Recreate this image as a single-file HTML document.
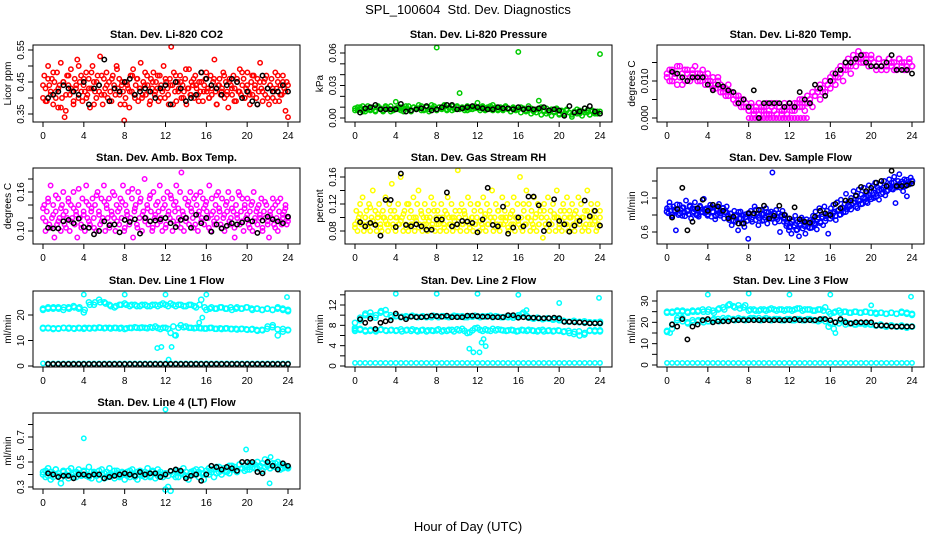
<!DOCTYPE html>
<html><head><meta charset="utf-8"><title>SPL_100604 Std. Dev. Diagnostics</title>
<style>
html,body{margin:0;padding:0;background:#fff;}
svg{display:block;font-family:"Liberation Sans",Arial,sans-serif;}
</style></head>
<body>
<svg id="chart" width="936" height="540" viewBox="0 0 936 540" xmlns="http://www.w3.org/2000/svg">
<rect width="936" height="540" fill="#fff"/>
<text x="468" y="14" text-anchor="middle" font-size="13">SPL_100604&#160; Std. Dev. Diagnostics</text>
<text x="468" y="531" text-anchor="middle" font-size="13">Hour of Day (UTC)</text>
</svg>
<script>
// ---------- shared categories ----------
const xTicks = [0,4,8,12,16,20,24];
const blackHours = [0.5,1,1.5,2,2.5,3,3.5,4,4.5,5,5.5,6,6.5,7,7.5,8,8.5,9,9.5,10,10.5,11,11.5,12,12.5,13,13.5,14,14.5,15,15.5,16,16.5,17,17.5,18,18.5,19,19.5,20,20.5,21,21.5,22,22.5,23,23.5,24];

// ---------- CO2 ----------
const co2Color = [.40,.47,.43,.39,.50,.44,.41,.46,.38,.45,.42,.48,.37,.44,.51,.40,.45,.34,.36,.47,.44,.41,.49,.42,.38,.46,.43,.52,.40,.45,.47,.39,.44,.42,.48,.41,.46,.37,.43,.50,.45,.42,.40,.47,.44,.53,.41,.38,.46,.43,.48,.40,.45,.42,.39,.47,.44,.41,.50,.43,.46,.38,.44,.42,.33,.40,.45,.43,.37,.47,.42,.49,.41,.44,.46,.39,.43,.51,.40,.45,.44,.41,.47,.42,.38,.46,.43,.48,.41,.45,.43,.39,.47,.44,.42,.50,.40,.45,.43,.38,.46,.56,.44,.48,.42,.39,.45,.43,.47,.40,.44,.42,.46,.38,.43,.49,.41,.45,.44,.40,.47,.43,.41,.45,.42,.48,.39,.44,.46,.42,.43,.40,.47,.41,.45,.52,.42,.38,.44,.46,.41,.43,.48,.40,.45,.42,.37,.46,.44,.41,.47,.43,.39,.45,.42,.49,.41,.44,.46,.40,.43,.48,.42,.38,.45,.41,.47,.44,.40,.46,.42,.51,.43,.39,.45,.41,.47,.43,.38,.44,.46,.40,.42,.48,.43,.45,.39,.44,.41,.47,.43,.36,.45,.34];
const co2ColorB = [.44,.39,.46,.42,.48,.40,.43,.37,.45,.41,.47,.43,.39,.44,.50,.42,.46,.40,.43,.48,.38,.45,.42,.47,.41,.44,.39,.46,.43,.49,.41,.45,.38,.44,.42,.47,.40,.46,.43,.41,.48,.44,.39,.45,.42,.47,.40,.43,.46,.41,.44,.38,.47,.42,.45,.40,.49,.43,.41,.46,.44,.39,.45,.42,.48,.40,.43,.46,.38,.44,.42,.47,.41,.45,.43,.39,.46,.42,.48,.40,.44,.41,.47,.43,.38,.45,.42,.46,.40,.44,.43,.39,.47,.41,.45,.42,.44];
const co2Black = [.40,.41,.42,.44,.43,.42,.41,.45,.38,.43,.44,.52,.39,.43,.42,.45,.46,.41,.42,.43,.42,.40,.43,.44,.38,.45,.43,.39,.40,.41,.48,.46,.44,.43,.41,.44,.46,.45,.40,.42,.39,.38,.47,.43,.42,.42,.44,.42];
const co2Ticks = [.35,.40,.45,.50,.55];
const co2Labels = ["0.35","","0.45","","0.55"];

// ---------- Pressure ----------
const presColor = [.009,.007,.010,.006,.008,.011,.007,.009,.006,.010,.008,.007,.011,.009,.006,.008,.015,.010,.007,.009,.011,.008,.006,.010,.009,.012,.007,.008,.010,.006,.009,.011,.065,.010,.008,.012,.007,.009,.011,.008,.010,.023,.009,.007,.011,.008,.010,.009,.014,.009,.011,.007,.010,.008,.012,.009,.007,.010,.008,.011,.009,.006,.010,.008,.061,.010,.008,.007,.011,.009,.006,.008,.016,.010,.007,.009,.005,.008,.006,.009,.004,.007,.003,.008,.005,.001,.006,.004,.007,.002,.009,.005,.003,.007,.004,.006,.059];
const presColorB = [.007,.010,.008,.011,.006,.009,.008,.010,.007,.011,.009,.006,.010,.008,.011,.007,.009,.008,.010,.006,.009,.011,.007,.010,.008,.009,.011,.007,.010,.008,.012,.009,.007,.010,.009,.011,.008,.010,.007,.009,.011,.008,.010,.009,.007,.010,.008,.011,.009,.007,.010,.008,.009,.011,.007,.010,.008,.009,.007,.010,.008,.006,.009,.007,.008,.005,.009,.006,.008,.004,.007,.005,.008,.003,.006,.004,.007,.002,.005,.008,.003,.006,.004,.007,.005,.003,.006,.008,.004,.006,.005,.007,.003,.006,.005,.004,.006];
const presBlack = [.005,.009,.010,.012,.008,.008,.008,.008,.013,.006,.007,.008,.009,.011,.007,.008,.010,.012,.012,.008,.009,.010,.011,.010,.009,.008,.008,.010,.009,.009,.008,.010,.008,.009,.008,.009,.010,.007,.008,.007,.002,.011,.005,.006,.009,.011,.006,.004];
const presTicks = [0,.01,.02,.03,.04,.05,.06];
const presLabels = ["0.00","","","0.03","","","0.06"];

// ---------- Li-820 Temp ----------
const tempColor = [.012,.010,.013,.011,.009,.014,.012,.010,.013,.011,.012,.014,.010,.012,.011,.009,.012,.010,.008,.009,.011,.007,.008,.006,.009,.007,.005,.006,.004,.005,.003,.004,.002,.003,.001,.002,.004,.002,.003,.001,.002,.004,.002,.001,.003,.002,.004,.001,.003,.002,.004,.003,.005,.003,.002,.004,.005,.003,.006,.007,.005,.008,.007,.009,.008,.010,.009,.011,.012,.010,.013,.014,.012,.015,.014,.016,.015,.017,.016,.015,.017,.015,.014,.016,.013,.015,.014,.016,.015,.013,.014,.016,.015,.013,.014,.016,.014];
const tempColorB = [.011,.013,.010,.012,.014,.011,.009,.013,.012,.010,.013,.011,.012,.010,.013,.011,.010,.009,.011,.008,.010,.009,.007,.008,.006,.007,.005,.004,.006,.003,.005,.003,.002,.004,.002,.003,.001,.003,.002,.004,.001,.003,.002,.004,.003,.001,.002,.003,.004,.003,.002,.004,.003,.005,.004,.006,.004,.007,.006,.008,.009,.007,.010,.009,.011,.012,.011,.013,.014,.013,.015,.016,.014,.017,.016,.018,.016,.015,.017,.014,.016,.015,.013,.016,.014,.015,.013,.016,.014,.015,.013,.016,.014,.015,.013,.015,.014];
const tempZeroHours = [8,8.3,8.6,8.9,9.2,9.5,9.8,10.1,10.4,10.7,11,11.3,11.6,11.9,12.2,12.5,12.8,13.1,13.4,13.7];
const tempZeroValues = [0,0,0,0,0,0,0,0,0,0,0,0,0,0,0,0,0,0,0,0];
const tempBlack = [.0125,.012,.011,.010,.011,.011,.011,.009,.0075,.009,.0085,.0075,.007,.004,.005,.003,.0075,0,.004,.004,.004,.004,.003,.004,.003,.007,.005,.004,.009,.008,.006,.010,.012,.013,.015,.015,.016,.017,.015,.014,.014,.014,.015,.017,.013,.013,.013,.012];
const tempTicks = [0,.005,.010,.015];
const tempLabels = ["0.000","","0.010",""];

// ---------- Amb Box Temp ----------
const ambColor = [.12,.14,.10,.13,.15,.11,.17,.12,.14,.09,.13,.11,.15,.12,.10,.14,.16,.11,.13,.12,.15,.10,.14,.12,.16,.11,.13,.09,.14,.12,.11,.15,.13,.10,.17,.12,.14,.11,.13,.15,.12,.14,.10,.16,.13,.11,.15,.12,.17,.10,.14,.12,.15,.11,.13,.16,.12,.10,.14,.13,.11,.15,.12,.17,.10,.14,.13,.16,.11,.12,.15,.09,.13,.14,.11,.16,.12,.15,.10,.13,.18,.12,.14,.11,.15,.13,.10,.16,.12,.14,.11,.13,.17,.12,.10,.15,.14,.11,.16,.13,.12,.15,.10,.14,.13,.17,.11,.12,.16,.19,.13,.10,.15,.12,.14,.11,.16,.13,.12,.15,.11,.14,.10,.13,.16,.12,.15,.11,.14,.13,.12,.17,.10,.15,.13,.11,.14,.12,.16,.13,.11,.15,.12,.10,.14,.13,.16,.11,.12,.15,.13,.09,.14,.12,.16,.11,.13,.15,.10,.14,.12,.15,.11,.13,.14,.10,.16,.12,.13,.11,.14,.12,.15,.10,.13,.12,.14,.11,.09,.13,.12,.15,.11,.14,.12,.10,.13,.15,.11,.12,.13,.14,.11,.12];
const ambColorB = [.135,.115,.145,.105,.125,.155,.115,.135,.125,.105,.145,.115,.135,.125,.165,.105,.125,.145,.115,.135,.105,.155,.125,.115,.145,.135,.105,.125,.155,.115,.135,.145,.105,.125,.115,.165,.135,.105,.145,.125,.115,.135,.155,.105,.125,.145,.115,.135,.105,.125,.155,.115,.145,.135,.105,.125,.115,.145,.135,.105,.155,.125,.115,.135,.145,.105,.125,.115,.155,.135,.105,.125,.145,.115,.135,.105,.125,.155,.115,.135,.125,.105,.145,.115,.135,.125,.105,.145,.115,.125,.135,.105,.145,.115,.125,.135,.115];
const ambBlack = [.105,.104,.104,.115,.117,.112,.119,.106,.105,.095,.100,.115,.109,.110,.098,.117,.114,.118,.096,.120,.115,.116,.118,.120,.112,.106,.117,.120,.105,.125,.112,.120,.099,.110,.104,.108,.112,.110,.113,.118,.115,.097,.116,.122,.118,.115,.112,.122];
const ambTicks = [.10,.12,.14,.16,.18];
const ambLabels = ["0.10","","","0.16",""];

// ---------- Gas Stream RH ----------
const rhColor = [.09,.11,.08,.10,.12,.09,.13,.08,.10,.11,.09,.12,.08,.10,.14,.09,.11,.08,.10,.12,.09,.08,.11,.10,.13,.09,.08,.12,.10,.15,.09,.11,.08,.10,.12,.09,.16,.10,.08,.11,.09,.12,.08,.10,.11,.09,.13,.08,.10,.12,.14,.09,.11,.08,.10,.12,.09,.08,.11,.10,.13,.09,.12,.08,.10,.11,.09,.08,.12,.10,.09,.11,.08,.13,.10,.09,.12,.08,.10,.11,.09,.17,.10,.08,.12,.09,.11,.10,.08,.13,.09,.12,.10,.08,.11,.09,.10,.12,.08,.11,.09,.13,.10,.08,.12,.09,.11,.10,.14,.08,.10,.12,.09,.11,.08,.10,.13,.09,.11,.10,.12,.08,.10,.09,.11,.13,.08,.10,.12,.09,.16,.10,.08,.11,.09,.14,.10,.12,.08,.11,.09,.13,.10,.08,.12,.09,.11,.10,.07,.12,.09,.10,.13,.08,.11,.09,.12,.10,.08,.14,.10,.09,.11,.08,.12,.10,.09,.13,.08,.11,.10,.12,.09,.08,.11,.10,.13,.09,.12,.08,.10,.11,.09,.14,.08,.10,.12,.09,.11,.10,.08,.12,.09,.11];
const rhColorB = [.085,.095,.105,.09,.10,.085,.115,.095,.09,.105,.085,.10,.095,.09,.11,.085,.10,.09,.095,.105,.085,.12,.09,.10,.095,.085,.105,.09,.10,.095,.085,.11,.09,.10,.095,.085,.105,.09,.10,.095,.085,.11,.09,.105,.095,.085,.10,.09,.12,.095,.085,.105,.09,.10,.095,.085,.11,.09,.10,.095,.085,.105,.09,.10,.095,.085,.12,.09,.10,.095,.085,.105,.09,.10,.11,.085,.095,.09,.105,.10,.085,.095,.11,.09,.10,.085,.105,.095,.09,.10,.085,.11,.09,.10,.095,.085,.10];
const rhBlack = [.093,.087,.092,.089,.073,.126,.126,.086,.165,.089,.087,.090,.087,.082,.082,.097,.097,.137,.087,.090,.095,.094,.092,.078,.097,.144,.089,.087,.116,.076,.085,.100,.087,.131,.131,.118,.080,.090,.127,.095,.090,.079,.088,.095,.125,.102,.110,.088];
const rhTicks = [.08,.10,.12,.14,.16];
const rhLabels = ["0.08","","0.12","","0.16"];

// ---------- Sample Flow ----------
const flowColor = [.88,.82,.95,.85,.78,.90,.84,.62,.87,.80,.92,.86,.79,.89,.83,.97,.85,.81,.90,.76,.88,.84,.95,.80,.86,.78,.91,.83,.87,.99,.82,.88,.79,.86,.92,.78,.84,.89,.75,.87,.81,.93,.79,.85,.88,.76,.83,.90,.80,.74,.82,.68,.78,.85,.72,.80,.62,.76,.84,.70,.79,.66,.81,.73,.52,.78,.85,.72,.80,.90,.74,.82,.68,.79,.86,.73,.81,.77,.88,.70,.83,.76,.84,1.30,.79,.71,.86,.75,.82,.60,.78,.85,.72,.80,.67,.76,.62,.70,.58,.74,.66,.79,.62,.72,.55,.68,.77,.64,.71,.58,.75,.66,.70,.74,.65,.79,.70,.84,.63,.77,.88,.72,.81,.68,.90,.76,.85,.58,.80,.88,.78,.92,.84,.74,.95,.86,.80,.98,.89,.83,.93,1.05,.87,.96,.90,1.00,.92,1.08,.95,1.02,.88,1.10,.97,1.04,.93,1.12,.99,1.06,.94,1.15,1.01,1.08,1.14,1.00,1.18,1.05,1.12,.98,1.16,1.10,1.06,1.20,1.03,1.14,1.09,1.22,1.12,1.18,1.10,1.25,.94,1.15,1.20,1.28,1.12,1.17,1.08,1.22,1.14,1.02,1.19,1.16,1.24,1.20];
const flowColorB = [.84,.90,.80,.86,.92,.82,.88,.79,.85,.91,.83,.87,.80,.89,.84,.86,.81,.88,.83,.79,.86,.82,.88,.84,.78,.81,.74,.79,.83,.76,.71,.78,.82,.75,.80,.86,.77,.81,.74,.83,.79,.76,.82,.78,.73,.80,.76,.70,.66,.72,.68,.63,.70,.74,.67,.71,.65,.72,.69,.75,.71,.78,.73,.80,.76,.82,.79,.85,.81,.88,.84,.91,.87,.94,.90,.97,.93,1.00,.96,1.03,.99,1.06,1.02,1.09,1.05,1.12,1.08,1.15,1.11,1.18,1.13,1.16,1.19,1.14,1.21,1.17,1.20];
const flowBlack = [.77,.87,1.12,.62,.72,.88,.98,.85,.92,.90,.85,.76,.78,.70,.70,.82,.82,.86,.91,.76,.79,.91,.80,.76,.89,.75,.72,.71,.78,.85,.82,.80,.93,.88,.97,.97,1.03,1.13,1.08,1.12,1.18,1.20,1.14,1.32,1.14,1.14,1.15,1.17];
const flowTicks = [.6,.8,1.0,1.2];
const flowLabels = ["0.6","","1.0",""];

// ---------- Line 1 Flow ----------
const l1Upper = [22,23,22.5,23,22,23,23.5,22.5,21,25,24,26,25,24,23,24,24.5,23.5,24,23.5,24,23.5,24,24,24,24.5,23.5,24,23.5,24,23,26,22,23,22.5,23,22.5,22,23,22.5,23,22,22.5,22,22.5,22,23,22,22];
const l1UpperB = [22.5,22.5,23,22.5,23,22.5,23,23,22,24,25,25,24.5,23.5,23.5,24,24,24,23.5,24,23.5,24,23.5,24.5,23.5,24,24,23.5,24,23.5,24,23,22.5,22.5,23,22.5,23,22.5,22.5,23,22.5,22.5,22,22.5,22,22.5,22.5,21.5];
const l1Middle = [15,14.8,14.5,14.8,15,14.7,14.8,15,14.6,14.9,15,15.1,14.8,15,15,14.7,14.5,15,15.2,14.9,15,15.2,15.5,14.5,15,13,12,16,15.5,15,15,14.8,14.7,15,14.6,14.5,14.8,14.5,14.3,14.6,14.2,14.5,13.8,14,15.5,16,12,14.5,14];
const l1MiddleB = [14.7,15,14.8,14.6,14.9,15,14.6,14.8,15,14.7,14.8,15,15,14.7,14.9,15,14.8,14.9,15,15.1,14.8,15,14.9,15,14.6,15.5,15,15.2,15,14.8,14.9,14.7,14.9,14.6,14.8,14.7,14.5,14.6,14.5,14.4,14.3,14.1,14.2,14.6,15.2,14.4,13.5,14.2];
const l1Lower = [1,1,1,1,1,1,1,1,1,1,1,1,1,1,1,1,1,1,1,1,1,1,1,1,1,1,1,1,1,1,1,1,1,1,1,1,1,1,1,1,1,1,1,1,1,1,1,1,1];
const l1ExtraHours = [4,8,12,16,23.9,11.2,11.6,12.3,12.6,12.9,15.3,15.6];
const l1ExtraValues = [28,28,28,28,27,7,7.5,2.5,7.5,12,17,19];
const l1Black = [.8,.8,.8,.8,.8,.8,.8,.8,.8,.8,.8,.8,.8,.8,.8,.8,.8,.8,.8,.8,.8,.8,.8,.8,.8,.8,.8,.8,.8,.8,.8,.8,.8,.8,.8,.8,.8,.8,.8,.8,.8,.8,.8,.8,.8,.8,.8,.8];
const l1Ticks = [0,10,20];
const l1Labels = ["0","10","20"];

// ---------- Line 2 Flow ----------
const l2Upper = [7.5,9.5,10,10.5,9.5,10.5,11,10,9.8,9.6,9.8,9.8,9.7,9.7,9.6,9.6,9.8,9.8,9.7,9.7,9.8,9.8,9.6,9.7,9.8,9.8,9.8,9.6,9.7,9.6,9.6,9.5,10,10.5,9.5,9.3,9.4,9.3,9.3,9.2,9,8.8,8.7,8.8,8.7,8.5,8.6,8.6,8.4];
const l2UpperB = [8.5,9,10.3,9.8,10,10.8,10.2,9.6,9.9,9.7,9.6,9.9,9.6,9.8,9.7,9.9,9.6,9.8,9.6,9.9,9.7,9.6,9.8,9.9,9.6,9.7,9.9,9.8,9.6,9.7,9.8,9.7,10.2,9.8,9.4,9.5,9.2,9.4,9.1,9.3,8.9,8.7,8.9,8.6,8.8,8.6,8.5,8.7];
const l2Middle = [7.2,7.1,7,6.9,7,7.1,7,7,6.9,7.2,7,6.9,7,7,6.8,7,7,6.8,6.9,7.1,7.2,7.3,6.5,7,7.5,6.9,7,7.3,7.2,7,7,7,6.9,7,7.1,6.9,7,6.8,7,6.9,6.9,6.8,6.5,6.7,6,6.5,7,7,6.8];
const l2MiddleB = [6.9,7.3,6.8,7.1,6.8,7.2,6.9,7.1,7,6.8,7.1,7.2,6.8,7.1,7,6.9,7.2,7,7.1,6.8,7,6.9,6.6,7.4,7.1,7.2,6.9,7,7.1,6.9,7.1,6.8,7.1,6.9,7,6.8,7.1,6.9,6.8,7,6.7,6.9,6.3,6.8,6.2,6.9,6.8,7];
const l2Lower = [.6,.6,.6,.6,.6,.6,.6,.6,.6,.6,.6,.6,.6,.6,.6,.6,.6,.6,.6,.6,.6,.6,.6,.6,.6,.6,.6,.6,.6,.6,.6,.6,.6,.6,.6,.6,.6,.6,.6,.6,.6,.6,.6,.6,.6,.6,.6,.6,.6];
const l2ExtraHours = [11.2,11.6,12.2,12.4,12.6,12.8,4,8,12,16,20,23.9,16.8];
const l2ExtraValues = [3.4,2.7,2.7,4.6,5.3,3.9,14.2,14.2,14.2,14,12.4,13.4,11];
const l2Black = [9.2,8.5,9.3,7.3,8.5,8.8,9,10.3,9.6,9.2,9.7,9.6,9.6,9.7,9.9,9.8,9.7,9.9,9.6,9.6,9.6,9.9,9.9,9.8,9.7,9.7,9.6,9.6,9.6,10,10,9.5,9.6,9.5,9.5,9.4,9.4,9.4,9.5,9.4,8.7,8.7,8.6,8.6,8.5,8.4,8.4,8.4];
const l2Ticks = [0,2,4,6,8,10,12,14];
const l2Labels = ["0","","4","","8","","12",""];

// ---------- Line 3 Flow ----------
const l3Upper = [25,24.5,25.5,25,25,25.5,25,26,25,25.5,26,27,28,27.5,28,27,25.5,26,25.5,26,26,26,26,25.5,26,26,26.5,26,26,25.5,26,27,24,25,24.5,25,24.5,25,24.5,25,24.5,24,24.5,24,24.5,24,24.5,24.5,24];
const l3UpperB = [24.5,25,25,25.5,24.5,25,25.5,25,26,24.5,26.5,26,28.5,27,26.5,28,26,25.5,26,25.5,26.5,25.5,26,26,25.5,26.5,25.5,26,25.5,26,25.5,25,24.5,25.5,25,24.5,25,24.5,25,24.5,24.5,24.5,24,24.5,24,25,24,23.5];
const l3Middle = [16,17,21,22,20,21,20.5,21,20.5,21,21.5,22,22,21.5,22,21.5,21.5,22,22,21.5,21.5,21.5,21.5,21,21.5,21,21.5,21,21.5,21,21,20.5,19.5,20,21,19,19.5,19,19.5,19.5,19,18.5,18.5,18,18.5,18,18,18,18];
const l3MiddleB = [15.5,19,22,20.5,19.5,20,21,20,20.5,21.5,20.5,21,21.5,21,21.5,21,22,21.5,21,22,21,21.5,21,21.5,21,21.5,21,21.5,21,20.5,21.5,18,17,19.5,20.5,19.5,19,19.5,19,19,18.5,19,18,18.5,18,18.5,17.5,18];
const l3Lower = [1,1,1,1,1,1,1,1,1,1,1,1,1,1,1,1,1,1,1,1,1,1,1,1,1,1,1,1,1,1,1,1,1,1,1,1,1,1,1,1,1,1,1,1,1,1,1,1,1];
const l3ExtraHours = [4,8,12,16,20,23.9,16.5,0.3];
const l3ExtraValues = [33,33.5,33,33,28,32,15,15];
const l3Black = [19,18,21.5,12,18,19,21,21.5,20,20.5,20.5,20.5,21,21,21,21,21,21,21,21,21,21,21,21,21.5,21,21,21,21,21.5,21.5,21,20,21.5,20,19.5,20,20,20,20,18.5,18.5,18.5,18,18,18,18,18];
const l3Ticks = [0,5,10,15,20,25,30];
const l3Labels = ["0","","10","","20","","30"];

// ---------- Line 4 (LT) Flow ----------
const l4Color = [.42,.38,.45,.36,.41,.44,.39,.33,.43,.40,.37,.45,.41,.38,.44,.40,.42,.39,.46,.37,.42,.40,.36,.44,.41,.38,.45,.40,.37,.43,.39,.41,.36,.42,.38,.44,.40,.36,.43,.41,.38,.45,.39,.42,.37,.44,.40,.38,.28,.30,.27,.40,.43,.38,.41,.45,.39,.36,.42,.40,.44,.38,.41,.36,.43,.40,.44,.38,.46,.42,.40,.45,.43,.41,.47,.44,.42,.48,.45,.43,.46,.44,.48,.45,.50,.46,.43,.52,.47,.45,.49,.46,.50,.44,.48,.46,.45];
const l4ColorB = [.40,.43,.39,.42,.38,.44,.41,.37,.42,.39,.43,.40,.38,.42,.41,.39,.43,.40,.38,.42,.41,.39,.43,.40,.37,.42,.40,.39,.43,.41,.38,.42,.40,.39,.43,.41,.38,.42,.40,.39,.42,.40,.38,.43,.41,.39,.42,.40,.41,.39,.42,.40,.38,.43,.41,.40,.42,.39,.41,.43,.40,.42,.44,.41,.43,.45,.42,.44,.41,.46,.43,.45,.42,.47,.44,.46,.43,.48,.45,.47,.44,.49,.46,.48,.45,.47,.49,.46,.48,.45,.47,.49,.46,.48,.45,.47,.46];
const l4ExtraHours = [4,12,19.9,22.3,22.2];
const l4ExtraValues = [.69,.92,.60,.54,.33];
const l4Black = [.41,.40,.38,.39,.39,.37,.40,.40,.39,.40,.40,.37,.38,.39,.40,.41,.40,.39,.42,.40,.41,.41,.38,.40,.43,.44,.43,.37,.39,.40,.35,.40,.47,.46,.44,.46,.45,.43,.50,.50,.50,.42,.41,.50,.47,.44,.49,.47];
const l4Ticks = [.3,.4,.5,.6,.7,.8];
const l4Labels = ["0.3","","0.5","","0.7",""];

// ---------- drawing ----------
const NS = "http://www.w3.org/2000/svg";
const svg = document.getElementById("chart");
const COLS = [33,345,657];
const ROWS = [[45,122],[168,244],[291,367],[413,489]];
const PW = 267;

function mk(tag, attrs, parent){
  const e = document.createElementNS(NS, tag);
  for (const k in attrs) e.setAttribute(k, attrs[k]);
  (parent||svg).appendChild(e);
  return e;
}
function evenHours(n){ const h=[]; for(let i=0;i<n;i++) h.push(i*24/(n-1)); return h; }

function drawPanel(p){
  const L = COLS[p.col], R = L+PW, T = ROWS[p.row][0], B = ROWS[p.row][1];
  const g = mk("g", {});
  
  
  const xs = h => L + 10 + h*(245/24);
  const ys = v => p.y1 + (v - p.v1)*(p.y2 - p.y1)/(p.v2 - p.v1);
  const t = mk("text", {x:(L+R)/2, y:T-7, "text-anchor":"middle", "font-size":"11", "font-weight":"bold"}, g);
  t.textContent = p.title;
  
  
  p.series.forEach(s => {
    const sg = mk("g", {fill:"none", stroke:s.color, "stroke-width":"1.5"}, g);
    
    
    const hrs = s.hours || evenHours(s.values.length);
    const n = Math.min(hrs.length, s.values.length);
    for (let i=0;i<n;i++){
      const c = mk("circle", {cx:xs(hrs[i]).toFixed(1), cy:ys(s.values[i]).toFixed(1), r:s.r||2.2}, sg);
      
      
    }
  });
  const box = mk("rect", {x:L, y:T, width:R-L, height:B-T, fill:"none", stroke:"#000", "stroke-width":"1"}, g);
  
  
  const xa = mk("g", {stroke:"#000", "stroke-width":"1"}, g);
  
  
  mk("line", {x1:xs(xTicks[0]), y1:B, x2:xs(xTicks[xTicks.length-1]), y2:B}, xa);
  xTicks.forEach(v => {
    mk("line", {x1:xs(v), y1:B, x2:xs(v), y2:B+5}, xa);
    const tl = mk("text", {x:xs(v), y:B+17, "text-anchor":"middle", "font-size":"10", stroke:"none", fill:"#000"}, xa);
    tl.textContent = String(v);
    
    
  });
  const ya = mk("g", {stroke:"#000", "stroke-width":"1"}, g);
  
  
  mk("line", {x1:L, y1:ys(p.ticks[0]), x2:L, y2:ys(p.ticks[p.ticks.length-1])}, ya);
  p.ticks.forEach((v,i) => {
    const y = ys(v);
    mk("line", {x1:L-5, y1:y, x2:L, y2:y}, ya);
    if (p.labels[i]) {
      const tl = mk("text", {x:0, y:0, "text-anchor":"middle", "font-size":"10", stroke:"none", fill:"#000", transform:`translate(${L-9},${y}) rotate(-90)`}, ya);
      tl.textContent = p.labels[i];
      
      
    }
  });
  const yl = mk("text", {x:0, y:0, "text-anchor":"middle", "font-size":"10", transform:`translate(${L-22},${(T+B)/2}) rotate(-90)`}, g);
  yl.textContent = p.ylab;
  
  
}

const BK = "#000";
const CY = "#00ffff";
drawPanel({name:"panel-co2", col:0,row:0,title:"Stan. Dev. Li-820 CO2", ylab:"Licor ppm", v1:.35,y1:114,v2:.55,y2:50, ticks:co2Ticks, labels:co2Labels,
  series:[{label:"co2-series",color:"#ff0000",values:co2Color},{label:"co2-series-b",color:"#ff0000",values:co2ColorB},{label:"co2-black-series",color:BK,values:co2Black,hours:blackHours}]});
drawPanel({name:"panel-pressure", col:1,row:0,title:"Stan. Dev. Li-820 Pressure", ylab:"kPa", v1:0,y1:118,v2:.06,y2:53, ticks:presTicks, labels:presLabels,
  series:[{label:"pressure-series",color:"#00cc00",values:presColor},{label:"pressure-series-b",color:"#00cc00",values:presColorB},{label:"pressure-black-series",color:BK,values:presBlack,hours:blackHours}]});
drawPanel({name:"panel-li820-temp", col:2,row:0,title:"Stan. Dev. Li-820 Temp.", ylab:"degrees C", v1:0,y1:118,v2:.010,y2:81, ticks:tempTicks, labels:tempLabels,
  series:[{label:"temp-series",color:"#ff00ff",values:tempColor,r:2.6},{label:"temp-series-b",color:"#ff00ff",values:tempColorB,r:2.6},{label:"temp-zero-series",color:"#ff00ff",values:tempZeroValues,hours:tempZeroHours},{label:"temp-black-series",color:BK,values:tempBlack,hours:blackHours}]});
drawPanel({name:"panel-amb-box-temp", col:0,row:1,title:"Stan. Dev. Amb. Box Temp.", ylab:"degrees C", v1:.10,y1:231,v2:.16,y2:192, ticks:ambTicks, labels:ambLabels,
  series:[{label:"amb-series",color:"#ff00ff",values:ambColor},{label:"amb-series-b",color:"#ff00ff",values:ambColorB},{label:"amb-black-series",color:BK,values:ambBlack,hours:blackHours}]});
drawPanel({name:"panel-gas-rh", col:1,row:1,title:"Stan. Dev. Gas Stream RH", ylab:"percent", v1:.08,y1:231,v2:.16,y2:177, ticks:rhTicks, labels:rhLabels,
  series:[{label:"rh-series",color:"#ffff00",values:rhColor},{label:"rh-series-b",color:"#ffff00",values:rhColorB},{label:"rh-black-series",color:BK,values:rhBlack,hours:blackHours}]});
drawPanel({name:"panel-sample-flow", col:2,row:1,title:"Stan. Dev. Sample Flow", ylab:"ml/min", v1:.6,y1:232,v2:1.0,y2:198, ticks:flowTicks, labels:flowLabels,
  series:[{label:"flow-series",color:"#0000ff",values:flowColor},{label:"flow-series-b",color:"#0000ff",values:flowColorB,r:2.6},{label:"flow-black-series",color:BK,values:flowBlack,hours:blackHours}]});
drawPanel({name:"panel-line1-flow", col:0,row:2,title:"Stan. Dev. Line 1 Flow", ylab:"ml/min", v1:0,y1:366,v2:20,y2:315, ticks:l1Ticks, labels:l1Labels,
  series:[{label:"line1-upper",color:CY,values:l1Upper,r:2.6},{label:"line1-upper-b",color:CY,values:l1UpperB,r:2.6},{label:"line1-middle",color:CY,values:l1Middle,r:2.6},{label:"line1-middle-b",color:CY,values:l1MiddleB,r:2.6},{label:"line1-lower",color:CY,values:l1Lower},{label:"line1-extra",color:CY,values:l1ExtraValues,hours:l1ExtraHours},{label:"line1-black-series",color:BK,values:l1Black,hours:blackHours}]});
drawPanel({name:"panel-line2-flow", col:1,row:2,title:"Stan. Dev. Line 2 Flow", ylab:"ml/min", v1:0,y1:366,v2:12,y2:305, ticks:l2Ticks, labels:l2Labels,
  series:[{label:"line2-upper",color:CY,values:l2Upper,r:2.6},{label:"line2-upper-b",color:CY,values:l2UpperB,r:2.6},{label:"line2-middle",color:CY,values:l2Middle,r:2.6},{label:"line2-middle-b",color:CY,values:l2MiddleB,r:2.6},{label:"line2-lower",color:CY,values:l2Lower},{label:"line2-extra",color:CY,values:l2ExtraValues,hours:l2ExtraHours},{label:"line2-black-series",color:BK,values:l2Black,hours:blackHours}]});
drawPanel({name:"panel-line3-flow", col:2,row:2,title:"Stan. Dev. Line 3 Flow", ylab:"ml/min", v1:0,y1:365,v2:30,y2:301, ticks:l3Ticks, labels:l3Labels,
  series:[{label:"line3-upper",color:CY,values:l3Upper,r:2.6},{label:"line3-upper-b",color:CY,values:l3UpperB,r:2.6},{label:"line3-middle",color:CY,values:l3Middle,r:2.6},{label:"line3-middle-b",color:CY,values:l3MiddleB,r:2.6},{label:"line3-lower",color:CY,values:l3Lower},{label:"line3-extra",color:CY,values:l3ExtraValues,hours:l3ExtraHours},{label:"line3-black-series",color:BK,values:l3Black,hours:blackHours}]});
drawPanel({name:"panel-line4-flow", col:0,row:3,title:"Stan. Dev. Line 4 (LT) Flow", ylab:"ml/min", v1:.3,y1:487,v2:.7,y2:437, ticks:l4Ticks, labels:l4Labels,
  series:[{label:"line4-series",color:CY,values:l4Color,r:2.6},{label:"line4-series-b",color:CY,values:l4ColorB,r:2.6},{label:"line4-extra",color:CY,values:l4ExtraValues,hours:l4ExtraHours},{label:"line4-black-series",color:BK,values:l4Black,hours:blackHours}]});
</script>
</body></html>
